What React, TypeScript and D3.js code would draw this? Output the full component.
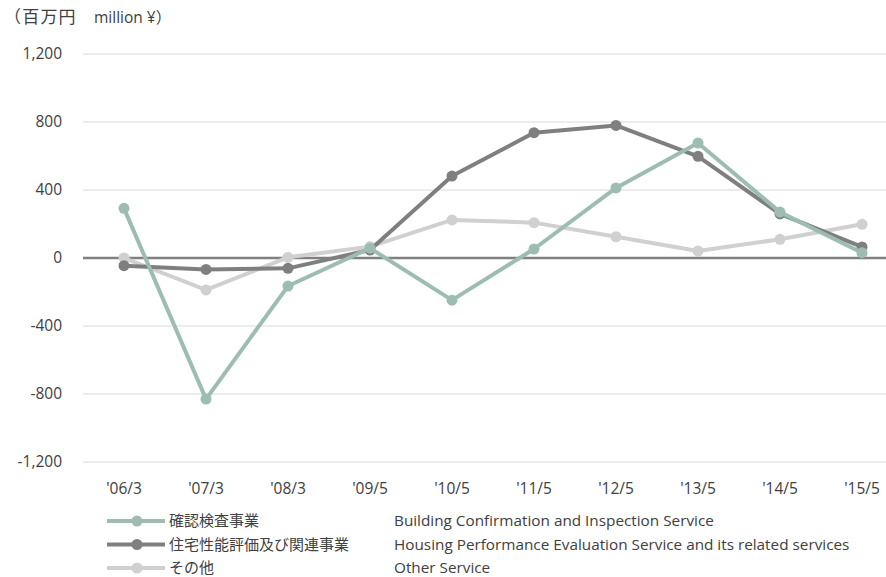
import React from "react";
import * as d3 from "d3";

const categories = ["'06/3", "'07/3", "'08/3", "'09/5", "'10/5", "'11/5", "'12/5", "'13/5", "'14/5", "'15/5"];
const buildingInspection = [292, -830, -165, 58, -248, 53, 412, 676, 270, 31];
const housingPerformance = [-45, -67, -61, 47, 482, 737, 780, 598, 259, 65];
const otherService = [0, -188, 4, 67, 224, 208, 125, 41, 110, 198];
const yTicks = [1200, 800, 400, 0, -400, -800, -1200];

const seriesNamesJa = ["確認検査事業", "住宅性能評価及び関連事業", "その他"];
const seriesNamesEn = [
  "Building Confirmation and Inspection Service",
  "Housing Performance Evaluation Service and its related services",
  "Other Service",
];
const colors = ["#9dbdb2", "#7f7f7f", "#d0d0d0"];

const W = 886;
const H = 577;
const FONT = "'Open Sans', 'Noto Sans CJK JP', sans-serif";

export default function App() {
  const x = d3.scaleBand<string>().domain(categories).range([83, 903]).padding(0);
  const cx = (c: string) => (x(c) as number) + x.bandwidth() / 2;
  const y = d3.scaleLinear().domain([-1200, 1200]).range([462, 54]);
  const fmt = (v: number) => d3.format(",")(v).replace("\u2212", "-");
  const series = [buildingInspection, housingPerformance, otherService];
  const line = d3
    .line<number>()
    .x((_, i) => cx(categories[i]))
    .y((d) => y(d));
  const order = [2, 1, 0];

  return (
    <svg
      width={W}
      height={H}
      style={{ position: "absolute", left: 0, top: 0, background: "#fff" }}
      fontFamily={FONT}
    >
      <text y={23} fill="#404040">
        <tspan x={4} fontSize={17} letterSpacing={1.2}>（百万円</tspan>
        <tspan x={94} fontSize={15.5}>million ¥）</tspan>
      </text>
      {yTicks.map((t) => (
        <g key={t}>
          {t !== 0 && (
            <line x1={83} x2={W} y1={y(t)} y2={y(t)} stroke="#d9d9d9" strokeWidth={1} />
          )}
          <text x={62} y={y(t)} dy="0.35em" textAnchor="end" fontSize={15.5} fill="#404040">
            {fmt(t)}
          </text>
        </g>
      ))}
      <line x1={83} x2={W} y1={y(0)} y2={y(0)} stroke="#808080" strokeWidth={2.5} />
      {categories.map((c) => (
        <text key={c} x={cx(c)} y={494} textAnchor="middle" fontSize={15.5} fill="#404040">
          {c}
        </text>
      ))}
      {order.map((si) => (
        <g key={si}>
          <path d={line(series[si]) as string} fill="none" stroke={colors[si]} strokeWidth={4} strokeLinejoin="round" />
          {series[si].map((v, i) => (
            <circle key={i} cx={cx(categories[i])} cy={y(v)} r={5.5} fill={colors[si]} />
          ))}
        </g>
      ))}
      {seriesNamesJa.map((n, i) => {
        const ly = 521 + i * 23.5;
        return (
          <g key={n}>
            <line x1={107} x2={165} y1={ly} y2={ly} stroke={colors[i]} strokeWidth={4} />
            <circle cx={137} cy={ly} r={5.5} fill={colors[i]} />
            <text x={169} y={ly} dy="0.35em" fontSize={15} fill="#404040">
              {n}
            </text>
            <text x={394} y={ly} dy="0.35em" fontSize={15.3} fill="#404040">
              {seriesNamesEn[i]}
            </text>
          </g>
        );
      })}
    </svg>
  );
}
